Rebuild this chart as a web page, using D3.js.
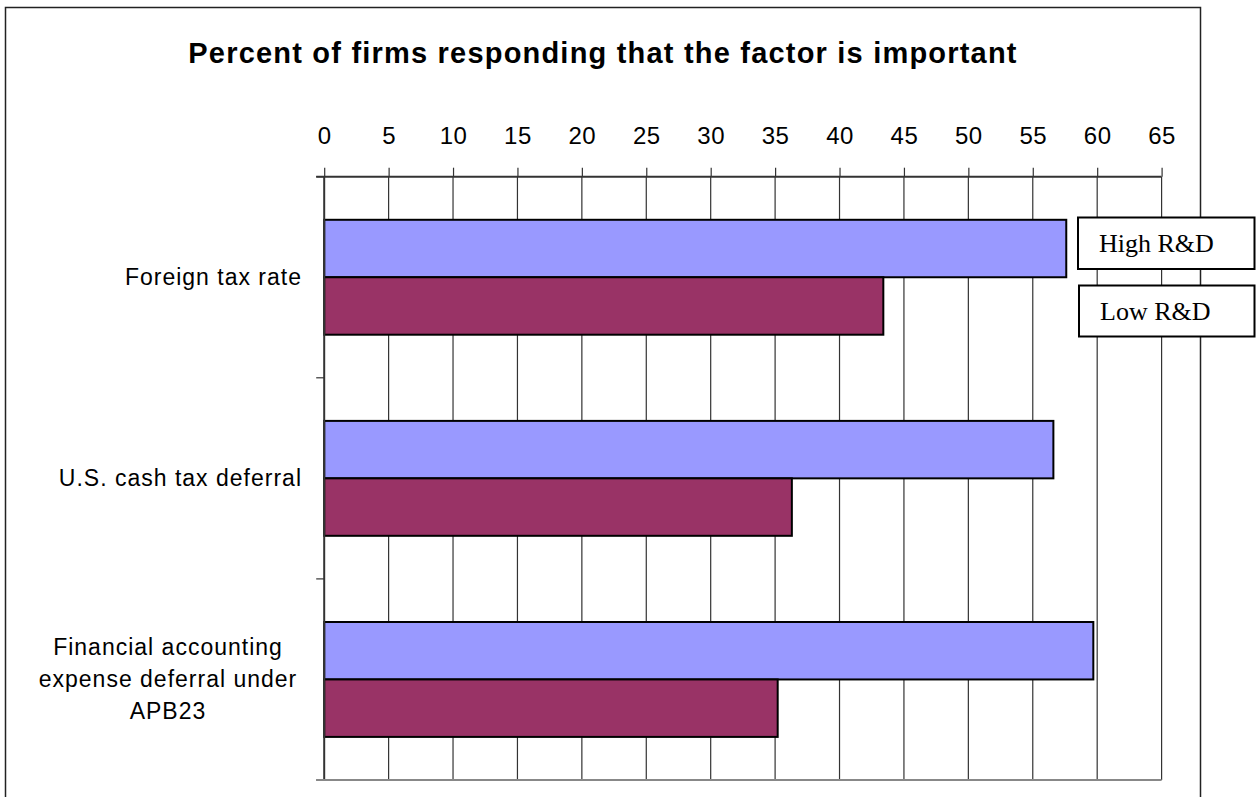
<!DOCTYPE html>
<html>
<head>
<meta charset="utf-8">
<script src="https://cdn.jsdelivr.net/npm/d3@7"></script>
<style>
  html, body { margin: 0; padding: 0; background: #fff; }
  svg { display: block; }
</style>
</head>
<body>
<svg id="chart" width="1256" height="797"></svg>
<script>
// Survey factors, listed top to bottom
const categories = [
  ["Foreign tax rate"],
  ["U.S. cash tax deferral"],
  ["Financial accounting", "expense deferral under", "APB23"]
];
const seriesNames = ["High R&D", "Low R&D"];
const highRD = [57.6, 56.6, 59.7];
const lowRD = [43.4, 36.3, 35.2];
const tickValues = [0, 5, 10, 15, 20, 25, 30, 35, 40, 45, 50, 55, 60, 65];
const titleText = "Percent of firms responding that the factor is important";

const colors = ["#9999FF", "#993366"];
const series = [highRD, lowRD];

const svg = d3.select("#chart");

const plot = { left: 324.2, right: 1161.6, top: 176.7, bottom: 780 };
const sans = "Liberation Sans, Arial, sans-serif";

// outer chart frame
svg.append("rect")
  .attr("x", 5.5).attr("y", 7.5)
  .attr("width", 1195).attr("height", 820)
  .attr("fill", "#fff").attr("stroke", "#222").attr("stroke-width", 1.5);

// title
svg.append("text")
  .attr("x", 603).attr("y", 63)
  .attr("text-anchor", "middle")
  .attr("font-family", sans)
  .attr("font-weight", "bold")
  .attr("font-size", 29)
  .attr("letter-spacing", 1.2)
  .attr("fill", "#000")
  .text(titleText);

const x = d3.scaleLinear().domain([0, 65]).range([plot.left, plot.right]);
// each category band: two bars with a gap of 150% of a bar
const band = (plot.bottom - plot.top) / categories.length;
const barH = band / 3.5;

// vertical gridlines
svg.append("g")
  .selectAll("line")
  .data(tickValues.slice(1))
  .join("line")
  .attr("x1", d => x(d)).attr("x2", d => x(d))
  .attr("y1", plot.top).attr("y2", plot.bottom)
  .attr("stroke", "#333").attr("stroke-width", 1.2);

// top value axis
const xAxis = d3.axisTop(x).tickValues(tickValues).tickSize(9).tickPadding(24).tickFormat(d3.format("d"));
const gx = svg.append("g").attr("transform", `translate(0,${plot.top})`).call(xAxis);
gx.select(".domain").remove();
gx.selectAll(".tick line").attr("stroke", "#333").attr("stroke-width", 1.2);
gx.selectAll(".tick text")
  .attr("font-family", sans)
  .attr("font-size", 24)
  .attr("letter-spacing", 0.5)
  .attr("fill", "#000");
svg.append("line")
  .attr("x1", plot.left - 8).attr("x2", plot.right)
  .attr("y1", plot.top).attr("y2", plot.top)
  .attr("stroke", "#333").attr("stroke-width", 2);

// bars
categories.forEach((c, i) => {
  const y0 = plot.top + i * band + (band - 2 * barH) / 2;
  series.forEach((s, k) => {
    svg.append("rect")
      .attr("x", x(0))
      .attr("y", y0 + k * barH)
      .attr("width", x(s[i]) - x(0))
      .attr("height", barH)
      .attr("fill", colors[k])
      .attr("stroke", "#000")
      .attr("stroke-width", 2);
  });
});

// category axis on the left
svg.append("line")
  .attr("x1", plot.left).attr("x2", plot.left)
  .attr("y1", plot.top).attr("y2", plot.bottom)
  .attr("stroke", "#333").attr("stroke-width", 2);
d3.range(categories.length + 1).forEach(i => {
  const yy = plot.top + i * band;
  svg.append("line")
    .attr("x1", plot.left - 8).attr("x2", plot.left)
    .attr("y1", yy).attr("y2", yy)
    .attr("stroke", "#333").attr("stroke-width", 1.2);
});
svg.append("line")
  .attr("x1", plot.left - 8).attr("x2", plot.right)
  .attr("y1", plot.bottom).attr("y2", plot.bottom)
  .attr("stroke", "#888").attr("stroke-width", 2);

// category labels
const lineGap = 32;
categories.forEach((lines, i) => {
  const cy = plot.top + (i + 0.5) * band;
  const g = svg.append("text")
    .attr("font-family", sans)
    .attr("font-size", 23)
    .attr("letter-spacing", 1.0)
    .attr("fill", "#000");
  if (lines.length === 1) {
    g.attr("text-anchor", "end").attr("x", 302).attr("y", cy + 8).text(lines[0]);
  } else {
    g.attr("text-anchor", "middle");
    lines.forEach((ln, j) => {
      g.append("tspan")
        .attr("x", 168)
        .attr("y", cy + 8 + (j - (lines.length - 1) / 2) * lineGap)
        .text(ln);
    });
  }
});

// legend boxes
const legend = [
  { name: seriesNames[0], x: 1078, y: 217.5, w: 176.5, h: 51.5 },
  { name: seriesNames[1], x: 1079, y: 285.5, w: 175.5, h: 51 }
];
legend.forEach(l => {
  svg.append("rect")
    .attr("x", l.x).attr("y", l.y).attr("width", l.w).attr("height", l.h)
    .attr("fill", "#fff").attr("stroke", "#000").attr("stroke-width", 2);
  svg.append("text")
    .attr("x", l.x + 21).attr("y", l.y + 34)
    .attr("font-family", "Liberation Serif, Times New Roman, serif")
    .attr("font-size", 26)
    .attr("fill", "#000")
    .text(l.name);
});
</script>
</body>
</html>
